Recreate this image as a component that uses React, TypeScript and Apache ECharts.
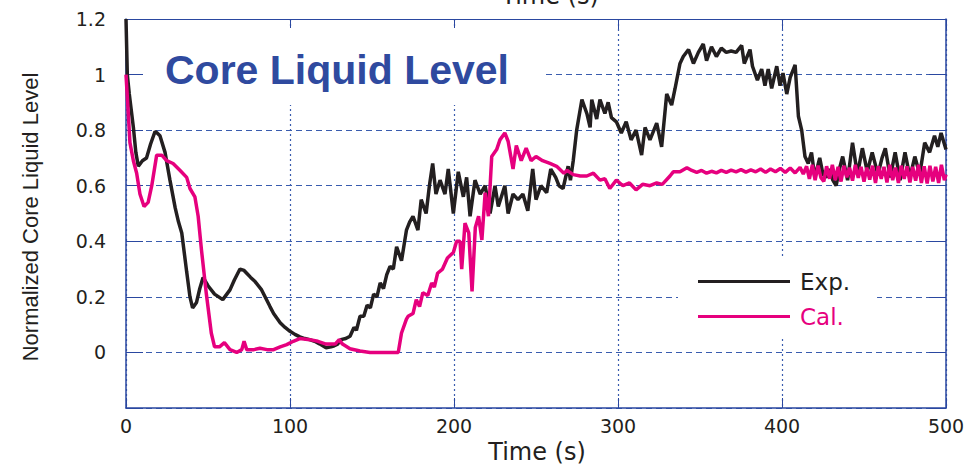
import React, { useEffect, useRef } from "react";
import * as echarts from "echarts";

const expTime = [
  0, 0.8, 2, 4.5, 6, 7.5, 10, 12.5, 15, 17.7, 19, 20.7, 23.8, 26.8, 30, 32, 34, 37, 39, 40.6,
  43, 45, 47, 50, 54, 59, 63.4, 66, 69.5, 72, 73.6, 76, 78.7, 82.7, 87.8, 90, 94, 97, 100, 103,
  106, 109, 112, 115, 118, 122, 125, 127, 129, 131, 134, 136.6, 139, 140.5, 142.7, 145, 147, 149, 151, 153,
  155, 157, 159, 161, 163, 165, 168, 171, 173, 175, 178, 180, 183, 185, 187, 189, 191.5, 194.5, 196.5, 199.6,
  202.6, 205.7, 207.7, 209.8, 212.8, 216, 219, 222, 225, 227, 231, 233, 236, 239, 242, 245, 248, 250, 253, 256.5,
  259, 262, 264, 266.5, 269.6, 271, 272.7, 274.8, 278, 281, 283, 284, 287, 289, 292, 294, 296, 299, 302, 305,
  308, 311, 314.4, 316.5, 319.5, 323.6, 326.6, 329.7, 332.7, 334.8, 337.8, 339.8, 343, 346, 349, 352, 354, 357, 360, 363,
  366, 369, 372, 375.4, 377, 380.5, 382, 385, 387.6, 389.6, 391.6, 393.7, 396.8, 398.8, 400.6, 402.9, 405, 408, 410, 412,
  414, 416, 418, 420, 423, 425, 427, 429, 431, 433, 435, 437, 440, 443, 446, 449, 452, 455, 458.5, 461,
  463, 466, 469, 472, 475, 478, 481, 484, 487, 490, 493, 495, 497, 500,
];
const expLevel = [
  1.2, 1.0, 0.93, 0.81, 0.72, 0.67, 0.69, 0.7, 0.75, 0.795, 0.79, 0.78, 0.72, 0.62, 0.52, 0.47, 0.43, 0.29, 0.2, 0.16,
  0.18, 0.23, 0.27, 0.24, 0.21, 0.19, 0.225, 0.26, 0.3, 0.295, 0.285, 0.27, 0.255, 0.225, 0.165, 0.14, 0.107, 0.09, 0.076, 0.065,
  0.056, 0.05, 0.046, 0.04, 0.031, 0.017, 0.02, 0.024, 0.03, 0.046, 0.05, 0.058, 0.09, 0.08, 0.13, 0.13, 0.17, 0.16, 0.21, 0.2,
  0.25, 0.23, 0.28, 0.31, 0.3, 0.38, 0.33, 0.44, 0.47, 0.49, 0.44, 0.55, 0.5, 0.6, 0.68, 0.57, 0.62, 0.57, 0.66, 0.5,
  0.65, 0.56, 0.63, 0.49, 0.62, 0.57, 0.6, 0.5, 0.6, 0.525, 0.6, 0.5, 0.57, 0.55, 0.57, 0.51, 0.66, 0.55, 0.6, 0.575,
  0.66, 0.63, 0.6, 0.59, 0.67, 0.62, 0.69, 0.8, 0.91, 0.86, 0.81, 0.91, 0.84, 0.91, 0.86, 0.9, 0.845, 0.83, 0.79, 0.83,
  0.765, 0.8, 0.71, 0.81, 0.765, 0.825, 0.74, 0.93, 0.89, 0.95, 1.04, 1.065, 1.09, 1.04, 1.08, 1.11, 1.05, 1.1, 1.065, 1.095,
  1.08, 1.085, 1.08, 1.105, 1.04, 1.09, 1.03, 0.98, 1.02, 0.96, 1.02, 0.95, 1.03, 0.96, 1.005, 0.93, 0.99, 1.035, 0.85, 0.8,
  0.705, 0.68, 0.72, 0.63, 0.7, 0.64, 0.63, 0.66, 0.62, 0.6, 0.66, 0.705, 0.62, 0.755, 0.64, 0.735, 0.65, 0.72, 0.64, 0.7,
  0.735, 0.63, 0.72, 0.62, 0.72, 0.63, 0.705, 0.64, 0.755, 0.72, 0.78, 0.74, 0.79, 0.73,
];

const calTime = [
  0, 1.3, 2.4, 4.5, 6.5, 8.5, 11, 13.5, 15.7, 18.7, 21.8, 24.8, 28.7, 33, 37, 39, 42, 44, 46, 49,
  52, 54, 57, 60, 63.4, 67.5, 70.6, 72, 73.6, 78, 81.7, 86, 90, 94, 98, 102, 106, 112, 117, 122,
  127.5, 130, 132, 136.6, 142.7, 148.8, 159, 166, 168, 171, 172, 175, 177, 179, 181, 184, 186.4, 188, 190, 193,
  196, 199.6, 201.6, 203.7, 204.7, 206.7, 209, 211, 213, 215, 217, 219, 221, 223, 226, 228, 231, 233, 236, 238,
  241, 244, 247, 250, 254, 258.5, 262.6, 267, 269, 272.7, 277, 281, 285, 289, 292, 295, 299, 303, 307, 311,
  315, 319.5, 323.6, 327, 331.7, 333.7, 337.8, 342, 345, 348, 351, 354, 357, 360, 363, 366, 369, 372, 375, 378,
  381, 384, 387, 390, 393, 396, 399, 402, 405, 408, 411, 413, 415, 416.7, 418.5, 420.2, 422, 423.7, 425.5, 427.2,
  429, 430.7, 432.5, 434.2, 436, 437.7, 439.5, 441.2, 443, 444.7, 446.5, 448.2, 450, 451.7, 453.5, 455.2, 457, 458.7, 460.5, 462.2,
  464, 465.7, 467.5, 469.2, 471, 472.7, 474.5, 476.2, 478, 479.7, 481.5, 483.2, 485, 486.7, 488.5, 490.2, 492, 493.7, 495.5, 497.2,
  499, 500,
];
const calLevel = [
  1.0, 0.87, 0.755, 0.69, 0.645, 0.57, 0.525, 0.54, 0.6, 0.71, 0.71, 0.69, 0.68, 0.655, 0.63, 0.59, 0.56, 0.49, 0.37, 0.21,
  0.07, 0.02, 0.02, 0.035, 0.01, 0.0, 0.01, 0.04, 0.01, 0.01, 0.015, 0.01, 0.01, 0.02, 0.028, 0.04, 0.05, 0.046, 0.04, 0.03,
  0.03, 0.046, 0.03, 0.013, 0.005, 0.0, 0.0, 0.0, 0.07, 0.12, 0.13, 0.14, 0.19, 0.165, 0.215, 0.205, 0.25, 0.235, 0.285, 0.3,
  0.34, 0.36, 0.4, 0.4, 0.3, 0.465, 0.43, 0.22, 0.45, 0.49, 0.405, 0.575, 0.49, 0.705, 0.73, 0.765, 0.79, 0.76, 0.66, 0.745,
  0.69, 0.735, 0.69, 0.705, 0.69, 0.68, 0.67, 0.645, 0.655, 0.64, 0.635, 0.635, 0.645, 0.62, 0.625, 0.59, 0.62, 0.6, 0.61, 0.585,
  0.605, 0.6, 0.61, 0.605, 0.635, 0.65, 0.65, 0.665, 0.655, 0.648, 0.655, 0.645, 0.652, 0.646, 0.655, 0.648, 0.656, 0.65, 0.658, 0.649,
  0.657, 0.65, 0.66, 0.648, 0.66, 0.65, 0.662, 0.648, 0.664, 0.646, 0.666, 0.642, 0.67, 0.625, 0.675, 0.62, 0.672, 0.63, 0.615, 0.67,
  0.625, 0.675, 0.62, 0.668, 0.615, 0.672, 0.63, 0.665, 0.618, 0.675, 0.628, 0.668, 0.615, 0.665, 0.622, 0.672, 0.61, 0.67, 0.625, 0.668,
  0.612, 0.675, 0.62, 0.665, 0.61, 0.672, 0.625, 0.67, 0.612, 0.668, 0.618, 0.675, 0.61, 0.67, 0.608, 0.672, 0.615, 0.668, 0.61, 0.675,
  0.62, 0.64,
];

const seriesNames = ["Exp.", "Cal."];
const xName = "Time (s)";
const yName = "Normalized Core Liquid Level";
const titleText = "Core Liquid Level";

const GRID_BLUE = "#3a5cae";
const AXIS_BLUE = "#2a47a0";
const INK = "#231f20";
const PINK = "#e6007e";

export default function App() {
  const ref = useRef<HTMLDivElement>(null);
  useEffect(() => {
    if (!ref.current) return;
    const chart = echarts.init(ref.current, undefined, { renderer: "svg" });
    const exp = expTime.map((t, i) => [t, expLevel[i]]);
    const cal = calTime.map((t, i) => [t, calLevel[i]]);
    const yFmt = (v: number) => (v < -0.01 ? "" : String(Math.round(v * 10) / 10));
    chart.setOption({
      animation: false,
      backgroundColor: "#ffffff",
      grid: { left: 126, right: 22, top: 19, bottom: 57 },
      xAxis: [
        {
          type: "value",
          min: 0,
          max: 500,
          interval: 100,
          axisLine: { show: true, onZero: false, lineStyle: { color: AXIS_BLUE, width: 1.5 } },
          axisTick: { show: true, inside: true, length: 10, lineStyle: { color: AXIS_BLUE } },
          axisLabel: { margin: 8, fontSize: 19, fontFamily: "DejaVu Sans", color: INK },
          splitLine: { show: true, lineStyle: { color: GRID_BLUE, type: [2, 3], width: 1.2 } },
        },
        {
          type: "value",
          position: "top",
          min: 0,
          max: 500,
          interval: 100,
          axisLine: { show: true, onZero: false, lineStyle: { color: AXIS_BLUE, width: 1.2 } },
          axisTick: { show: true, inside: true, length: 10, lineStyle: { color: AXIS_BLUE } },
          axisLabel: { show: false },
          splitLine: { show: false },
        },
      ],
      yAxis: [
        {
          type: "value",
          min: -0.2,
          max: 1.2,
          interval: 0.2,
          axisLine: { show: true, onZero: false, lineStyle: { color: AXIS_BLUE, width: 1.5 } },
          axisTick: { show: true, inside: true, length: 17, lineStyle: { color: AXIS_BLUE } },
          axisLabel: { margin: 20, fontSize: 19, fontFamily: "DejaVu Sans", color: INK, formatter: yFmt },
          splitLine: { show: true, lineStyle: { color: GRID_BLUE, type: [6, 4], width: 1.2 } },
        },
        {
          type: "value",
          position: "right",
          min: -0.2,
          max: 1.2,
          interval: 0.2,
          axisLine: { show: true, onZero: false, lineStyle: { color: AXIS_BLUE, width: 1.5 } },
          axisTick: { show: true, inside: true, length: 17, lineStyle: { color: AXIS_BLUE } },
          axisLabel: { show: false },
          splitLine: { show: false },
        },
      ],
      legend: {
        orient: "vertical",
        left: 678,
        top: 258,
        padding: [12, 27, 10, 20],
        itemWidth: 92,
        itemHeight: 3,
        itemGap: 12,
        icon: "rect",
        backgroundColor: "#ffffff",
        textStyle: { fontSize: 23, fontFamily: "DejaVu Sans", lineHeight: 21, padding: [0, 0, 0, 5] },
        data: [
          { name: seriesNames[0], textStyle: { color: INK } },
          { name: seriesNames[1], textStyle: { color: PINK } },
        ],
      },
      graphic: [
        { type: "rect", z: 1, shape: { x: 143, y: 28, width: 402, height: 77 }, style: { fill: "#ffffff" } },
        {
          type: "text",
          z: 5,
          x: 165,
          y: 70,
          style: {
            text: titleText,
            fontSize: 41,
            fontWeight: "bold",
            fontFamily: "Liberation Sans",
            fill: "#2f4a9f",
            verticalAlign: "middle",
          },
        },
        {
          type: "text",
          z: 5,
          x: 30,
          y: 217,
          rotation: Math.PI / 2,
          style: {
            text: yName,
            fontSize: 22,
            fontFamily: "Liberation Sans",
            fill: INK,
            align: "center",
            verticalAlign: "middle",
          },
        },
        {
          type: "text",
          z: 5,
          x: 537,
          y: 452,
          style: {
            text: xName,
            fontSize: 24,
            fontFamily: "DejaVu Sans",
            fill: INK,
            align: "center",
            verticalAlign: "middle",
          },
        },
        {
          type: "text",
          z: 5,
          x: 550,
          y: -4,
          style: {
            text: xName,
            fontSize: 24,
            fontFamily: "DejaVu Sans",
            fill: INK,
            align: "center",
            verticalAlign: "middle",
          },
        },
      ],
      series: [
        {
          name: seriesNames[0],
          type: "line",
          data: exp,
          symbol: "none",
          z: 3,
          lineStyle: { color: INK, width: 3.5 },
          itemStyle: { color: INK },
        },
        {
          name: seriesNames[1],
          type: "line",
          data: cal,
          symbol: "none",
          z: 3,
          lineStyle: { color: PINK, width: 3.5 },
          itemStyle: { color: PINK },
        },
      ],
    });
    return () => chart.dispose();
  }, []);
  return <div ref={ref} style={{ width: 968, height: 465, position: "absolute", left: 0, top: 0 }} />;
}
